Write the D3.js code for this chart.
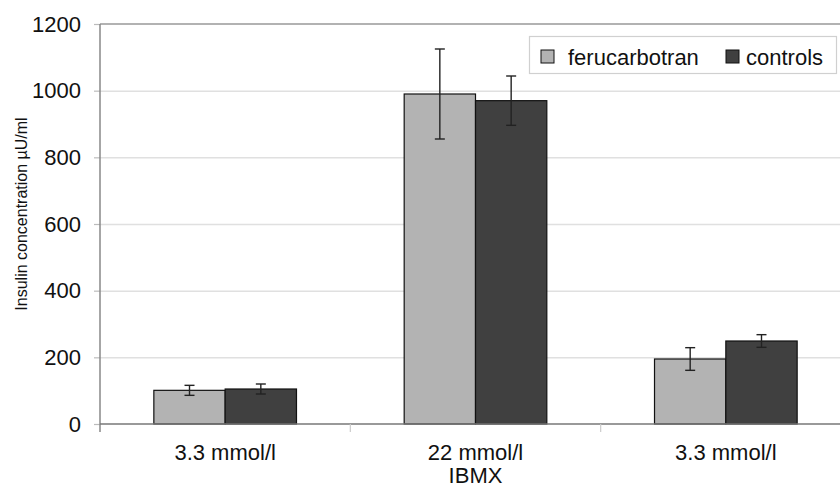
<!DOCTYPE html>
<html>
<head>
<meta charset="utf-8">
<script src="https://cdn.jsdelivr.net/npm/d3@7"></script>
<style>
	body { margin: 0; background: #fff; }
	svg { display: block; font-family: "Liberation Sans", Arial, sans-serif; }
</style>
</head>
<body>
<div id="chart-area"></div>
<script>

// data
let categories = ["3.3 mmol/l", "22 mmol/l|IBMX", "3.3 mmol/l "];
let series = ["ferucarbotran", "controls"];
let ferucarbotran = [101, 990, 195];
let ferucarbotranErr = [15, 135, 34];
let controls = [105, 970, 249];
let controlsErr = [15, 74, 19];
let yTicks = [0, 200, 400, 600, 800, 1000, 1200];

let colors = {ferucarbotran: "#b3b3b3", controls: "#404040"};

let width = 840,
	height = 490;

let margin = {top: 24, left: 100, bottom: 66};

let svg = d3.select("#chart-area").append("svg")
	.attr("width", width)
	.attr("height", height);

let x0 = d3.scaleBand()
	.domain(categories)
	.range([margin.left, 851])
	.paddingInner(0)
	.paddingOuter(0);

let x1 = d3.scaleBand()
	.domain(series)
	.range([0, x0.bandwidth()])
	.paddingInner(0)
	.paddingOuter(0.755);

let y = d3.scaleLinear()
	.domain([0, 1200])
	.range([height - margin.bottom, margin.top]);

// gridlines
svg.append("g")
	.selectAll("line")
	.data(yTicks.filter(d => d > 0 && d < 1200))
	.enter().append("line")
	.attr("x1", margin.left)
	.attr("x2", width)
	.attr("y1", d => y(d) + 0.5)
	.attr("y2", d => y(d) + 0.5)
	.attr("stroke", "#e0e0e0")
	.attr("stroke-width", 1.5);

// top border of plot
svg.append("line")
	.attr("x1", margin.left)
	.attr("x2", width)
	.attr("y1", y(1200))
	.attr("y2", y(1200))
	.attr("stroke", "#999")
	.attr("stroke-width", 1.5);

let rows = categories.map((c, i) => ({
	cat: c,
	vals: [
		{key: "ferucarbotran", v: ferucarbotran[i], e: ferucarbotranErr[i]},
		{key: "controls", v: controls[i], e: controlsErr[i]}
	]
}));

let groups = svg.selectAll(".group")
	.data(rows)
	.enter().append("g")
	.attr("class", "group")
	.attr("transform", d => "translate(" + x0(d.cat) + ",0)");

groups.selectAll("rect")
	.data(d => d.vals)
	.enter().append("rect")
	.attr("x", d => x1(d.key))
	.attr("y", d => y(d.v))
	.attr("width", x1.bandwidth())
	.attr("height", d => y(0) - y(d.v))
	.attr("fill", d => colors[d.key])
	.attr("stroke", "#111")
	.attr("stroke-width", 1.2);

// error bars
let err = groups.selectAll(".err")
	.data(d => d.vals)
	.enter().append("g")
	.attr("class", "err")
	.attr("stroke", "#222")
	.attr("stroke-width", 1.4);

err.append("line")
	.attr("x1", d => x1(d.key) + x1.bandwidth() / 2)
	.attr("x2", d => x1(d.key) + x1.bandwidth() / 2)
	.attr("y1", d => y(d.v + d.e))
	.attr("y2", d => y(d.v - d.e));

[1, -1].forEach(s => {
	err.append("line")
		.attr("x1", d => x1(d.key) + x1.bandwidth() / 2 - 5)
		.attr("x2", d => x1(d.key) + x1.bandwidth() / 2 + 5)
		.attr("y1", d => y(d.v + s * d.e))
		.attr("y2", d => y(d.v + s * d.e));
});

// y axis
let yAxis = svg.append("g")
	.attr("transform", "translate(" + margin.left + ",0)")
	.call(d3.axisLeft(y).tickValues(yTicks).tickFormat(d3.format("d")).tickSize(6).tickPadding(13).tickSizeOuter(0));
yAxis.select(".domain").remove();
yAxis.selectAll(".tick line").attr("stroke", "#bbb").attr("stroke-width", 1.2);
yAxis.selectAll("text").attr("font-size", 22).attr("fill", "#111").attr("font-family", "Liberation Sans, Arial, sans-serif");

svg.append("line")
	.attr("x1", margin.left)
	.attr("x2", margin.left)
	.attr("y1", y(1200))
	.attr("y2", y(0) + 8)
	.attr("stroke", "#888")
	.attr("stroke-width", 1.5);

// x axis baseline and ticks at band boundaries
svg.append("line")
	.attr("x1", margin.left)
	.attr("x2", width)
	.attr("y1", y(0))
	.attr("y2", y(0))
	.attr("stroke", "#777")
	.attr("stroke-width", 1.5);

svg.append("g")
	.selectAll("line")
	.data(categories.slice(1))
	.enter().append("line")
	.attr("x1", d => x0(d))
	.attr("x2", d => x0(d))
	.attr("y1", y(0))
	.attr("y2", y(0) + 8)
	.attr("stroke", "#ccc")
	.attr("stroke-width", 1.2);

let xl = svg.append("g")
	.selectAll("text")
	.data(categories)
	.enter().append("text")
	.attr("x", d => x0(d) + x0.bandwidth() / 2)
	.attr("y", 460)
	.attr("text-anchor", "middle")
	.attr("font-size", 22)
	.attr("fill", "#111");

xl.selectAll("tspan")
	.data(d => d.trim().split("|"))
	.enter().append("tspan")
	.attr("x", function() { return d3.select(this.parentNode).attr("x"); })
	.attr("dy", (d, i) => i === 0 ? 0 : 23)
	.text(d => d);

// y axis title
svg.append("text")
	.attr("transform", "translate(27," + 214 + ") rotate(-90)")
	.attr("text-anchor", "middle")
	.attr("font-size", 16)
	.attr("fill", "#111")
	.text("Insulin concentration \u00b5U/ml");

// legend
let legend = svg.append("g");
legend.append("rect")
	.attr("x", 529.5)
	.attr("y", 36.5)
	.attr("width", 307)
	.attr("height", 37)
	.attr("fill", "#fff")
	.attr("stroke", "#d0d0d0")
	.attr("stroke-width", 1.2);

let legendX = [541, 726];
let legendItems = legend.selectAll(".li")
	.data(series)
	.enter().append("g")
	.attr("class", "li")
	.attr("transform", (d, i) => "translate(" + legendX[i] + ",0)");

legendItems.append("rect")
	.attr("x", 0)
	.attr("y", 50)
	.attr("width", 13)
	.attr("height", 13)
	.attr("fill", d => colors[d])
	.attr("stroke", "#111")
	.attr("stroke-width", 1);

legendItems.append("text")
	.attr("x", (d, i) => i === 0 ? 27 : 20)
	.attr("y", 64.5)
	.attr("font-size", 22)
	.attr("fill", "#111")
	.text(d => d);

</script>
</body>
</html>
